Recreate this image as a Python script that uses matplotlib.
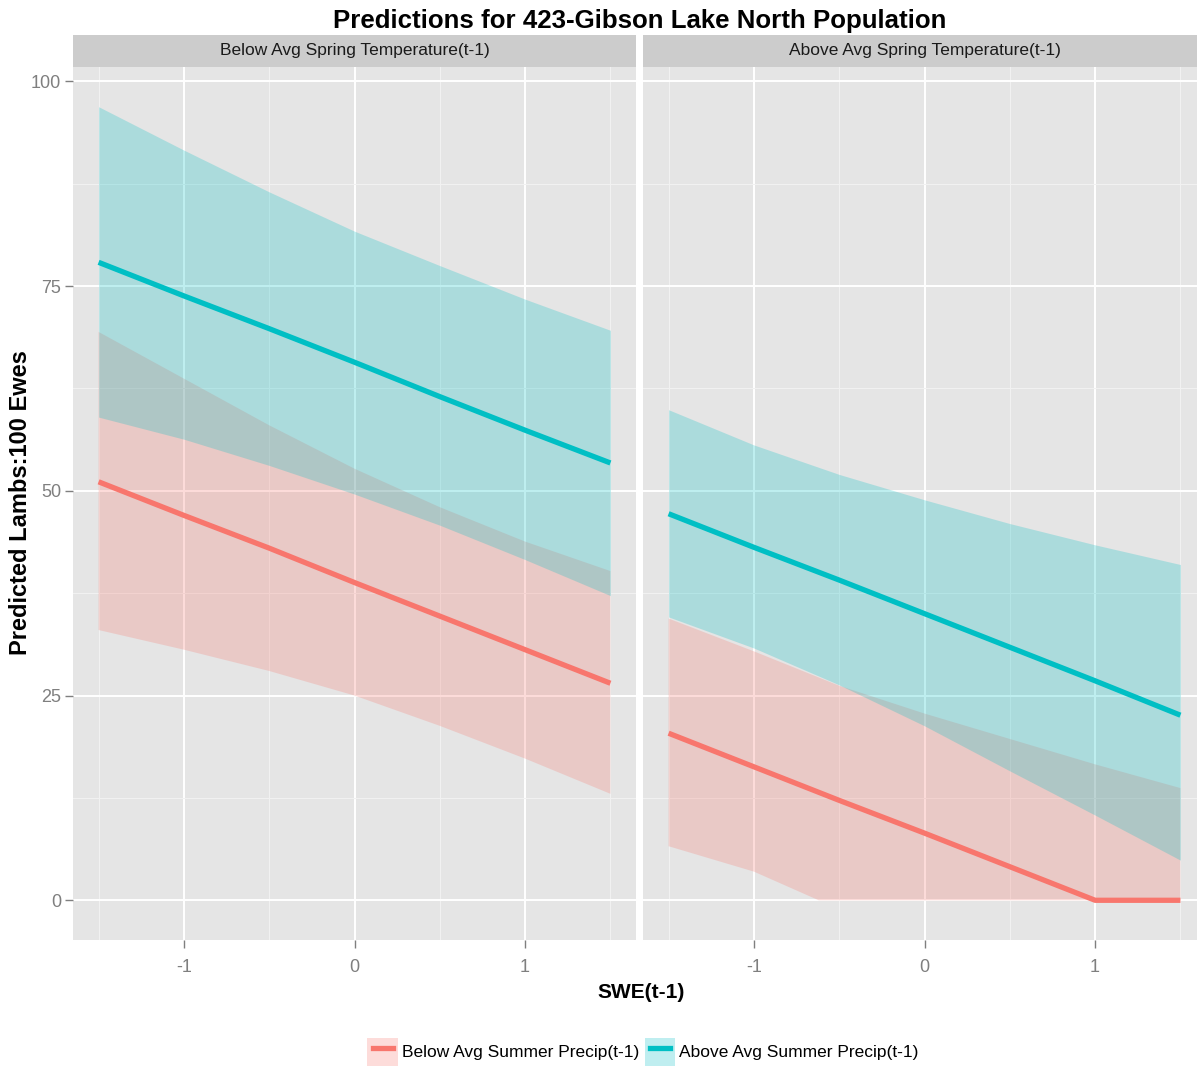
import matplotlib
matplotlib.use("Agg")
import matplotlib.pyplot as plt
from matplotlib.patches import Patch
from matplotlib.lines import Line2D
from matplotlib.legend_handler import HandlerTuple, HandlerLine2D
import numpy as np

# ---------------- data ----------------
title = "Predictions for 423-Gibson Lake North Population"
facets = ["Below Avg Spring Temperature(t-1)", "Above Avg Spring Temperature(t-1)"]
groups = ["Below Avg Summer Precip(t-1)", "Above Avg Summer Precip(t-1)"]
x_label = "SWE(t-1)"
y_label = "Predicted Lambs:100 Ewes"

swe = [-1.5, -1.0, -0.5, 0.0, 0.5, 1.0, 1.5]

# Facet 1: Below Avg Spring Temperature
f1_red_fit = [51.1, 47.0, 43.0, 38.8, 34.7, 30.6, 26.5]
f1_red_hi = [69.4, 63.7, 58.0, 52.7, 48.0, 43.8, 40.2]
f1_red_lo = [33.0, 30.6, 28.0, 25.0, 21.3, 17.3, 13.0]
f1_cyan_fit = [77.9, 73.8, 69.8, 65.7, 61.5, 57.4, 53.4]
f1_cyan_hi = [96.9, 91.6, 86.5, 81.7, 77.5, 73.4, 69.6]
f1_cyan_lo = [59.0, 56.3, 53.1, 49.6, 45.8, 41.6, 37.2]

# Facet 2: Above Avg Spring Temperature
f2_red_fit = [20.4, 16.3, 12.2, 8.2, 4.1, 0.0, 0.0]
f2_red_hi = [34.4, 30.4, 26.2, 22.8, 19.7, 16.6, 13.7]
f2_red_lo_x = [-1.5, -1.0, -0.62, 0.0, 0.5, 1.0, 1.5]
f2_red_lo = [6.6, 3.5, 0.0, 0.0, 0.0, 0.0, 0.0]
f2_cyan_fit = [47.2, 43.1, 39.1, 35.0, 30.9, 26.8, 22.6]
f2_cyan_hi = [59.9, 55.6, 52.0, 48.9, 46.0, 43.4, 41.0]
f2_cyan_lo = [34.6, 30.8, 26.3, 21.3, 15.8, 10.4, 4.9]

y_ticks = [0, 25, 50, 75, 100]
x_ticks = [-1, 0, 1]

# ---------------- style ----------------
plt.rcParams["font.family"] = ["Liberation Sans", "DejaVu Sans"]

RED = "#F8766D"
CYAN = "#00BFC4"
PANEL = "#E5E5E5"
STRIP = "#CCCCCC"
ALPHA = 0.25

W, H = 1197, 1067
fig = plt.figure(figsize=(W / 100, H / 100), dpi=100)

def fx(px):
    return px / W

def fy(py):
    return 1 - py / H

panel_top, panel_bot = 67, 940
panel_w = 563
lefts = [73, 643]

series = [
    (swe, f1_red_lo, f1_red_hi, f1_red_fit, swe, f1_cyan_lo, f1_cyan_hi, f1_cyan_fit),
    (f2_red_lo_x, f2_red_lo, f2_red_hi, f2_red_fit, swe, f2_cyan_lo, f2_cyan_hi, f2_cyan_fit),
]

for i, (left, facet) in enumerate(zip(lefts, facets)):
    ax = fig.add_axes([fx(left), fy(panel_bot), fx(panel_w), (panel_bot - panel_top) / H])
    ax.set_facecolor(PANEL)
    for s in ax.spines.values():
        s.set_visible(False)
    ax.set_xlim(-1.65, 1.65)
    ax.set_ylim(-4.85, 101.75)
    ax.set_xticks(x_ticks)
    ax.set_yticks(y_ticks)
    ax.set_xticks([-1.5, -0.5, 0.5, 1.5], minor=True)
    ax.set_yticks([12.5, 37.5, 62.5, 87.5], minor=True)
    ax.grid(which="major", color="white", linewidth=1.4)
    ax.grid(which="minor", color="#F2F2F2", linewidth=0.7)
    ax.set_axisbelow(True)
    ax.tick_params(which="minor", length=0)
    ax.tick_params(which="major", length=6, width=1, color="#7F7F7F",
                   labelcolor="#7F7F7F", labelsize=13)
    ax.tick_params(axis="x", pad=8)
    ax.tick_params(axis="y", pad=2.5)
    ax.set_xticklabels([str(t) for t in x_ticks])
    if i == 0:
        ax.set_yticklabels([str(t) for t in y_ticks])
    else:
        ax.tick_params(axis="y", left=False, labelleft=False)

    rx_lo, r_lo, r_hi, r_fit, cx, c_lo, c_hi, c_fit = series[i]
    # red ribbon (lower bound may have its own x positions)
    ax.fill(np.r_[swe, rx_lo[::-1]], np.r_[r_hi, r_lo[::-1]],
            color=RED, alpha=ALPHA, linewidth=0)
    ax.fill_between(cx, c_lo, c_hi, color=CYAN, alpha=ALPHA, linewidth=0)
    ax.plot(swe, r_fit, color=RED, linewidth=3.8, solid_capstyle="butt")
    ax.plot(cx, c_fit, color=CYAN, linewidth=3.8, solid_capstyle="butt")

    sax = fig.add_axes([fx(left), fy(panel_top), fx(panel_w), 32 / H])
    sax.set_facecolor(STRIP)
    sax.set_xticks([])
    sax.set_yticks([])
    for s in sax.spines.values():
        s.set_visible(False)
    sax.text(0.5, 0.5, facet, ha="center", va="center", fontsize=12.5,
             color="#1A1A1A", transform=sax.transAxes)

fig.text(fx(640), fy(21), title, ha="center", va="center", fontsize=18.6,
         fontweight="bold", color="black")
fig.text(fx(641), fy(992), x_label, ha="center", va="center", fontsize=15,
         fontweight="bold", color="black")
fig.text(fx(21), fy(503), y_label, ha="center", va="center", fontsize=17,
         fontweight="bold", rotation=90, color="black")

handles = [
    (Patch(facecolor=RED, alpha=ALPHA, linewidth=0), Line2D([], [], color=RED, linewidth=3.8)),
    (Patch(facecolor=CYAN, alpha=ALPHA, linewidth=0), Line2D([], [], color=CYAN, linewidth=3.8)),
]
fig.legend(handles, groups, loc="center", bbox_to_anchor=(fx(643), fy(1052)),
           ncol=2, frameon=False, fontsize=12.5, handlelength=1.75, handleheight=2.1,
           handletextpad=0.25, columnspacing=0.3, borderpad=0,
           handler_map={tuple: HandlerTuple(ndivide=1, pad=0),
                        Line2D: HandlerLine2D(numpoints=2, marker_pad=0.3)})

fig.savefig("out.png", dpi=100, facecolor="white")
